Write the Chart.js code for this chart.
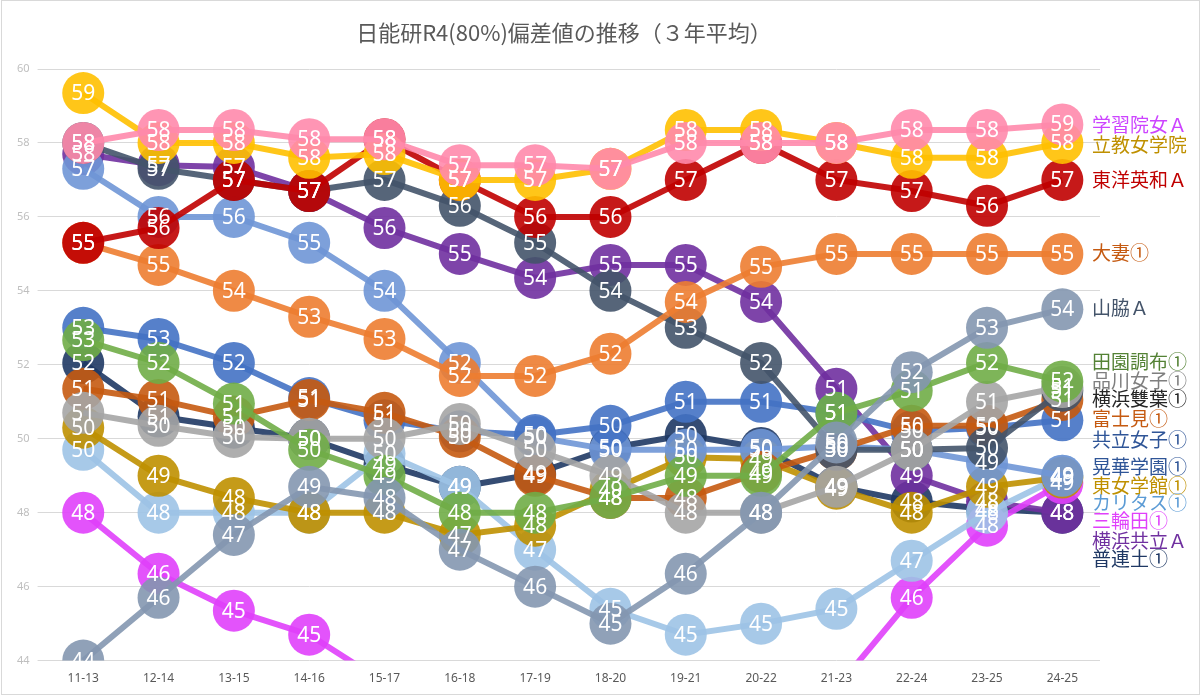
<!DOCTYPE html>
<html>
<head>
<meta charset="utf-8">
<script src="https://cdn.jsdelivr.net/npm/chart.js@4"></script>
<style>
  html, body { margin: 0; padding: 0; background: #fff; }
  #wrap { width: 1200px; height: 696px; position: relative; }
</style>
</head>
<body>
<div id="wrap"><canvas id="chart" width="1200" height="696"></canvas></div>
<script>
// 年度（3年平均）
var categories = ['11-13','12-14','13-15','14-16','15-17','16-18','17-19','18-20','19-21','20-22','21-23','22-24','23-25','24-25'];

// 各校の偏差値
var gakushuin       = [58.0, 58.35, 58.35, 58.1, 58.1, 57.4, 57.4, 57.3, 58.0, 58.0, 58.0, 58.35, 58.35, 58.5];
var rikkyo          = [59.35, 58.0, 58.0, 57.6, 57.7, 57.0, 57.0, 57.3, 58.35, 58.35, 58.0, 57.6, 57.6, 58.0];
var toyoeiwa        = [55.3, 55.7, 57.0, 56.7, 58.1, 57.0, 56.0, 56.0, 57.0, 58.0, 57.0, 56.7, 56.3, 57.0];
var otsuma          = [55.3, 54.7, 54.0, 53.3, 52.7, 51.7, 51.7, 52.3, 53.7, 54.65, 55.0, 55.0, 55.0, 55.0];
var yamawaki        = [44.0, 45.7, 47.4, 48.7, 48.4, 47.0, 46.0, 45.0, 46.35, 48.0, 49.9, 51.8, 53.0, 53.5];
var denen           = [52.67, 52.05, 50.95, 49.7, 49.0, 48.0, 48.0, 48.4, 49.0, 49.0, 50.7, 51.3, 52.05, 51.55];
var shinagawa       = [50.7, 50.35, 50.05, 50.0, 50.0, 50.4, 49.7, 49.0, 48.0, 48.0, 48.7, 49.7, 51.0, 51.4];
var yokohamaFutaba  = [58.0, 57.3, 57.0, 56.7, 57.0, 56.3, 55.3, 54.0, 53.0, 52.05, 49.7, 49.7, 49.75, 51.3];
var fujimi          = [51.35, 51.05, 50.6, 51.05, 50.7, 50.05, 49.0, 48.4, 48.4, 49.1, 49.7, 50.35, 50.35, 51.05];
var kyoritsu        = [53.0, 52.7, 52.05, 51.1, 50.5, 50.2, 50.1, 50.35, 51.0, 51.0, 50.7, 50.2, 50.3, 50.5];
var koka            = [57.3, 56.0, 56.0, 55.3, 54.0, 52.05, 50.05, 49.7, 49.7, 49.7, 49.8, 49.7, 49.35, 49.0];
var tojo            = [50.3, 49.0, 48.4, 48.0, 48.0, 47.4, 47.65, 48.6, 49.5, 49.45, 48.65, 48.0, 48.7, 48.95];
var caritas         = [49.7, 48.0, 48.0, 48.0, 49.6, 48.7, 47.0, 45.4, 44.7, 45.0, 45.4, 46.7, 48.0, 49.0];
var miwada          = [48.0, 46.35, 45.35, 44.7, 43.4, 42.8, 42.5, 42.3, 42.3, 42.6, 43.25, 45.7, 47.65, 48.8];
var yokohamaKyoritsu= [57.7, 57.4, 57.35, 56.7, 55.7, 55.0, 54.35, 54.7, 54.7, 53.7, 51.35, 49.0, 48.3, 48.0];
var furendo         = [52.05, 50.6, 50.3, 50.0, 49.3, 48.7, 49.05, 49.75, 50.1, 49.75, 48.7, 48.3, 48.1, 48.0];

var schoolNames = ['学習院女Ａ','立教女学院','東洋英和Ａ','大妻①','山脇Ａ','田園調布①','品川女子①','横浜雙葉①',
                   '富士見①','共立女子①','晃華学園①','東女学館①','カリタス①','三輪田①','横浜共立Ａ','普連土①'];
var seriesValues = [gakushuin, rikkyo, toyoeiwa, otsuma, yamawaki, denen, shinagawa, yokohamaFutaba,
                    fujimi, kyoritsu, koka, tojo, caritas, miwada, yokohamaKyoritsu, furendo];
var lineColors  = ['#FF89AC','#FFC000','#C00000','#ED7D31','#8497B0','#70AD47','#A5A5A5','#44546A',
                   '#C55A11','#4472C4','#6F96D6','#BF9000','#9DC3E6','#E040FB','#7030A0','#1F3864'];
var nameColors  = ['#CC44FF','#BF9000','#C00000','#C55A11','#44546A','#548235','#7F7F7F','#262626',
                   '#C55A11','#2F5597','#2F5597','#BF9000','#5B9BD5','#E040FB','#7030A0','#1F3864'];
// 右側の校名ラベルの高さ（偏差値の目盛り上）
var nameLabelY  = [58.48, 57.94, 57.0, 55.02, 53.53, 52.07, 51.58, 51.09, 50.55, 49.96, 49.23, 48.74, 48.28, 47.79, 47.25, 46.76];

var titleText = '日能研R4(80%)偏差値の推移（３年平均）';
var yMin = 44, yMax = 60;
var jpFont = "'Noto Sans CJK JP', 'Noto Sans', sans-serif";

var datasets = seriesValues.map(function(vals, i) {
    var ds = {
        label: schoolNames[i],
        data: vals,
        borderColor: lineColors[i] + 'e6',
        backgroundColor: lineColors[i] + 'e6',
        pointBackgroundColor: lineColors[i] + 'e6',
        pointBorderWidth: 0,
        pointRadius: 21,
        pointHoverRadius: 21,
        borderWidth: 6,
        tension: 0
    };
    if (vals.some(function(v) { return v < yMin; })) {
        ds.clip = { left: 30, top: 30, right: 30, bottom: 0 };
    }
    return ds;
});

// 点の中の数値、右端の校名、タイトル
var labelPlugin = {
    id: 'labels',
    afterDatasetsDraw: function(chart) {
        var ctx = chart.ctx;
        var y = chart.scales.y;
        ctx.save();
        ctx.textAlign = 'center';
        ctx.textBaseline = 'middle';
        ctx.font = "21px 'Noto Sans', sans-serif";
        ctx.fillStyle = '#ffffff';
        for (var d = chart.data.datasets.length - 1; d >= 0; d--) {
            var meta = chart.getDatasetMeta(d);
            meta.data.forEach(function(pt, k) {
                var v = chart.data.datasets[d].data[k];
                if (v < yMin || v > yMax) return;
                ctx.fillText(String(Math.round(v)), pt.x, pt.y + 1);
            });
        }
        ctx.textAlign = 'left';
        ctx.font = '19px ' + jpFont;
        var xText = chart.chartArea.right - 8;
        schoolNames.forEach(function(name, i) {
            ctx.fillStyle = nameColors[i];
            ctx.fillText(name, xText, y.getPixelForValue(nameLabelY[i]));
        });
        ctx.restore();
    },
    afterDraw: function(chart) {
        var ctx = chart.ctx;
        ctx.save();
        ctx.fillStyle = '#595959';
        ctx.font = '22px ' + jpFont;
        ctx.textAlign = 'center';
        ctx.textBaseline = 'middle';
        ctx.fillText(titleText, 564, 33);
        ctx.strokeStyle = '#D9D9D9';
        ctx.lineWidth = 1;
        ctx.strokeRect(1.5, 0.5, chart.width - 2, chart.height - 2);
        ctx.restore();
    }
};

new Chart(document.getElementById('chart'), {
    type: 'line',
    data: { labels: categories, datasets: datasets },
    options: {
        responsive: false,
        animation: false,
        layout: { padding: { left: 9, right: 100, top: 69, bottom: 7 } },
        plugins: {
            legend: { display: false },
            tooltip: { enabled: false },
            title: { display: false }
        },
        scales: {
            x: {
                offset: true,
                grid: { display: false },
                border: { display: false },
                ticks: { color: '#595959', font: { size: 12, family: "'Noto Sans', sans-serif" }, padding: 3 }
            },
            y: {
                min: yMin,
                max: yMax,
                grid: { color: '#D9D9D9', lineWidth: 1 },
                border: { display: false },
                ticks: { stepSize: 2, color: '#BFBFBF', font: { size: 11, family: "'Noto Sans', sans-serif" }, padding: 8 }
            }
        }
    },
    plugins: [labelPlugin]
});
</script>
</body>
</html>
